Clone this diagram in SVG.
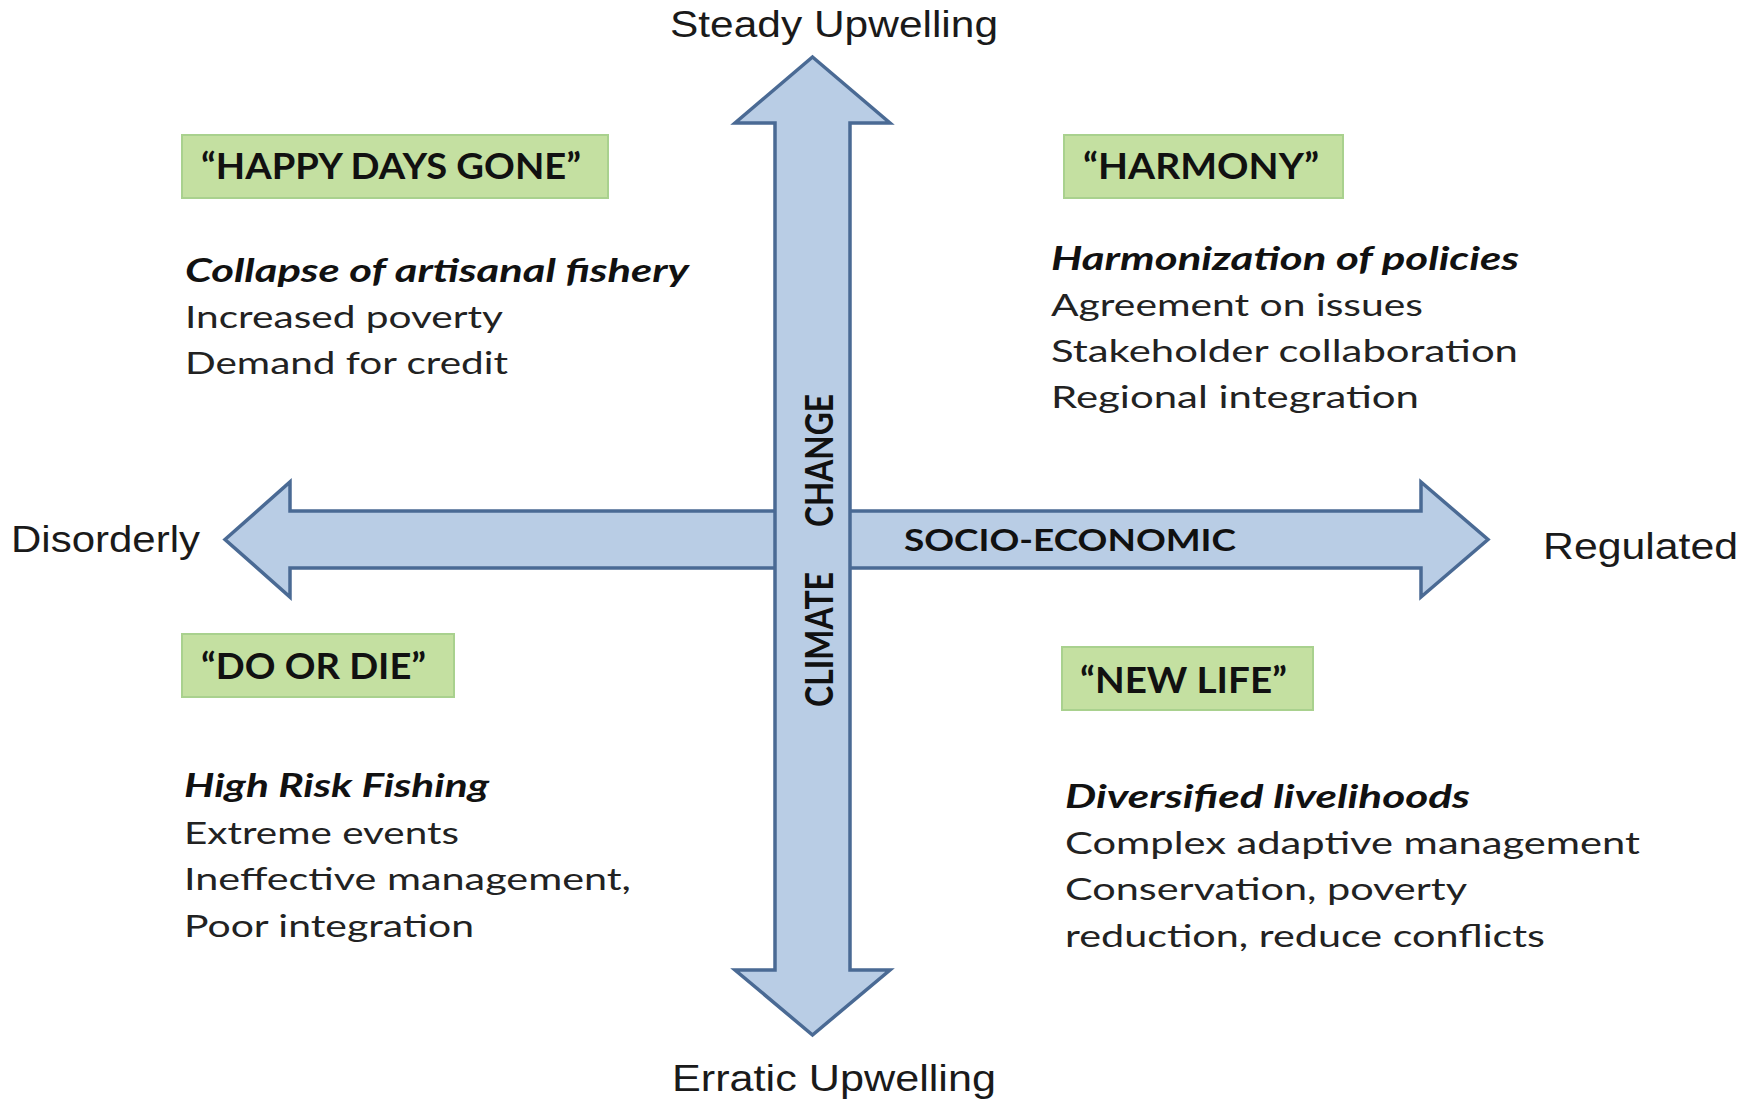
<svg xmlns="http://www.w3.org/2000/svg" width="1758" height="1103" viewBox="0 0 1758 1103">
<style>
.arrow{fill:#b9cde5;stroke:#4a6a94;stroke-width:3.5;stroke-linejoin:miter}
.box{fill:#c4e0a1;stroke:#a9d18e;stroke-width:2}
.lbl{font-family:"Liberation Sans",Arial,sans-serif;font-size:36px;fill:#1a1a1a}
.ttl{font-family:Lato,"Open Sans",sans-serif;font-weight:bold;font-size:36px;fill:#111}
.hd{font-family:Lato,"Open Sans",sans-serif;font-weight:bold;font-style:italic;font-size:33px;fill:#111}
.tx{font-family:Lato,"Open Sans",sans-serif;font-size:31px;fill:#222}
.ax{font-family:Lato,"Open Sans",sans-serif;font-weight:bold;font-size:31px;fill:#111}
</style>
<rect width="1758" height="1103" fill="#ffffff"/>
<g id="connectors">
<polygon id="socio-economic-axis" class="arrow" points="225,539.5 290,482 290,511 1421,511 1421,482 1488,539.5 1421,597 1421,568 290,568 290,597"/>
<polygon id="climate-axis" class="arrow" points="812.5,57 890,123 850,123 850,970 890,970 812.5,1035 735,970 775,970 775,123 735,123"/>
<text class="ax" x="904" y="551" textLength="332" lengthAdjust="spacingAndGlyphs">SOCIO-ECONOMIC</text>
<text class="ax" transform="translate(833,707) scale(1.2,1) rotate(-90)" x="0" y="0" textLength="135" lengthAdjust="spacingAndGlyphs">CLIMATE</text>
<text class="ax" transform="translate(833,527) scale(1.2,1) rotate(-90)" x="0" y="0" textLength="133" lengthAdjust="spacingAndGlyphs">CHANGE</text>
</g>
<g id="axis-labels">
<text class="lbl" x="670" y="37" textLength="328" lengthAdjust="spacingAndGlyphs">Steady Upwelling</text>
<text class="lbl" x="672" y="1091" textLength="324" lengthAdjust="spacingAndGlyphs">Erratic Upwelling</text>
<text class="lbl" x="11" y="552" textLength="189" lengthAdjust="spacingAndGlyphs">Disorderly</text>
<text class="lbl" x="1543" y="559" textLength="195" lengthAdjust="spacingAndGlyphs">Regulated</text>
</g>
<g id="happy-days-gone">
<rect class="box" x="182" y="135" width="426" height="63"/>
<text class="ttl" x="201" y="179" textLength="380" lengthAdjust="spacingAndGlyphs">“HAPPY DAYS GONE”</text>
<text class="hd" x="185" y="282" textLength="504" lengthAdjust="spacingAndGlyphs">Collapse of artisanal fishery</text>
<text class="tx" x="185" y="328" textLength="318" lengthAdjust="spacingAndGlyphs">Increased poverty</text>
<text class="tx" x="185" y="374" textLength="323" lengthAdjust="spacingAndGlyphs">Demand for credit</text>
</g>
<g id="harmony">
<rect class="box" x="1064" y="135" width="279" height="63"/>
<text class="ttl" x="1083" y="179" textLength="236" lengthAdjust="spacingAndGlyphs">“HARMONY”</text>
<text class="hd" x="1051" y="270" textLength="468" lengthAdjust="spacingAndGlyphs">Harmonization of policies</text>
<text class="tx" x="1051" y="316" textLength="372" lengthAdjust="spacingAndGlyphs">Agreement on issues</text>
<text class="tx" x="1051" y="362" textLength="467" lengthAdjust="spacingAndGlyphs">Stakeholder collaboration</text>
<text class="tx" x="1051" y="408" textLength="368" lengthAdjust="spacingAndGlyphs">Regional integration</text>
</g>
<g id="do-or-die">
<rect class="box" x="182" y="634" width="272" height="63"/>
<text class="ttl" x="201" y="679" textLength="225" lengthAdjust="spacingAndGlyphs">“DO OR DIE”</text>
<text class="hd" x="184" y="797" textLength="305" lengthAdjust="spacingAndGlyphs">High Risk Fishing</text>
<text class="tx" x="184" y="844" textLength="275" lengthAdjust="spacingAndGlyphs">Extreme events</text>
<text class="tx" x="184" y="890" textLength="447" lengthAdjust="spacingAndGlyphs">Ineffective management,</text>
<text class="tx" x="184" y="937" textLength="290" lengthAdjust="spacingAndGlyphs">Poor integration</text>
</g>
<g id="new-life">
<rect class="box" x="1062" y="647" width="251" height="63"/>
<text class="ttl" x="1080" y="693" textLength="207" lengthAdjust="spacingAndGlyphs">“NEW LIFE”</text>
<text class="hd" x="1065" y="808" textLength="405" lengthAdjust="spacingAndGlyphs">Diversified livelihoods</text>
<text class="tx" x="1065" y="854" textLength="575" lengthAdjust="spacingAndGlyphs">Complex adaptive management</text>
<text class="tx" x="1065" y="900" textLength="402" lengthAdjust="spacingAndGlyphs">Conservation, poverty</text>
<text class="tx" x="1065" y="947" textLength="480" lengthAdjust="spacingAndGlyphs">reduction, reduce conflicts</text>
</g>
</svg>
